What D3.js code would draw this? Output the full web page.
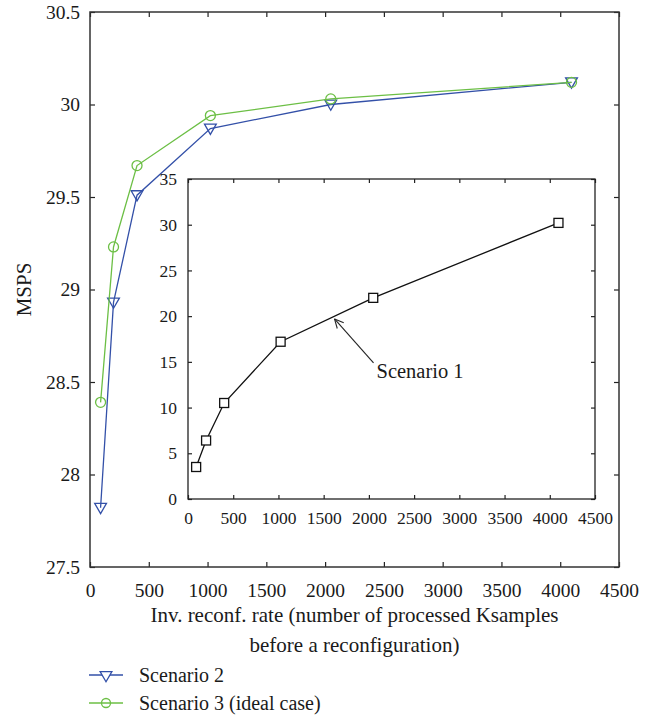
<!DOCTYPE html>
<html>
<head>
<meta charset="utf-8">
<script src="https://cdn.jsdelivr.net/npm/d3@7"></script>
<style>
  body { margin: 0; background: #fff; }
  svg { display: block; }
  text { font-family: "Liberation Serif", "DejaVu Serif", serif; fill: #1a1a1a; }
</style>
</head>
<body>
<svg id="chart" width="651" height="717" font-family="Liberation Serif, serif"></svg>
<script>
// ---- Data ----
const samples = [90, 200, 400, 1024, 2048, 4096];
const scenario2 = [27.82, 28.93, 29.51, 29.87, 30.00, 30.12];
const scenario3 = [28.39, 29.23, 29.67, 29.94, 30.03, 30.12];
const scenario1 = [3.5, 6.4, 10.5, 17.2, 22.0, 30.2];
const mainXTicks = [0, 500, 1000, 1500, 2000, 2500, 3000, 3500, 4000, 4500];
const mainYTicks = [27.5, 28, 28.5, 29, 29.5, 30, 30.5];
const insetXTicks = [0, 500, 1000, 1500, 2000, 2500, 3000, 3500, 4000, 4500];
const insetYTicks = [0, 5, 10, 15, 20, 25, 30, 35];
const seriesNames = ["Scenario 2", "Scenario 3 (ideal case)"];
const annotation = { label: "Scenario 1", x: 1620, y: 19.7 };

const blue = "#3350a8", green = "#6cbf45";

const svg = d3.select("#chart");

// ---- Main chart ----
const M = { left: 90, right: 619, top: 12, bottom: 567 };
const x = d3.scaleLinear().domain([0, 4500]).range([M.left, M.right]);
const y = d3.scaleLinear().domain([27.5, 30.5]).range([M.bottom, M.top]);

const fmtMain = d => String(d);

function styleAxis(g, fs) {
  g.attr("font-family", "Liberation Serif, serif");
  g.select(".domain").remove();
  g.selectAll(".tick line").attr("stroke", "#222").attr("stroke-width", 1.2);
  g.selectAll(".tick text").attr("font-size", fs).attr("fill", "#1a1a1a");
}

// bottom
svg.append("g").attr("transform", `translate(0,${M.bottom})`)
  .call(d3.axisBottom(x).tickValues(mainXTicks).tickFormat(fmtMain).tickSizeInner(-5).tickSizeOuter(0).tickPadding(16))
  .call(g => styleAxis(g, 19.5));
// top
svg.append("g").attr("transform", `translate(0,${M.top})`)
  .call(d3.axisTop(x).tickValues(mainXTicks).tickFormat("").tickSizeInner(-5).tickSizeOuter(0))
  .call(g => styleAxis(g, 19.5));
// left
svg.append("g").attr("transform", `translate(${M.left},0)`)
  .call(d3.axisLeft(y).tickValues(mainYTicks).tickFormat(fmtMain).tickSizeInner(-5).tickSizeOuter(0).tickPadding(10))
  .call(g => styleAxis(g, 19.5));
// right
svg.append("g").attr("transform", `translate(${M.right},0)`)
  .call(d3.axisRight(y).tickValues(mainYTicks).tickFormat("").tickSizeInner(-5).tickSizeOuter(0))
  .call(g => styleAxis(g, 19.5));

svg.append("rect").attr("x", M.left).attr("y", M.top)
  .attr("width", M.right - M.left).attr("height", M.bottom - M.top)
  .attr("fill", "none").attr("stroke", "#333").attr("stroke-width", 1.5);

const line = d3.line().x(d => x(d[0])).y(d => y(d[1]));
const tri = d3.symbol().type(d3.symbolTriangle).size(60);

const s2 = samples.map((s, i) => [s, scenario2[i]]);
const s3 = samples.map((s, i) => [s, scenario3[i]]);

svg.append("path").datum(s2).attr("d", line).attr("fill", "none").attr("stroke", blue).attr("stroke-width", 1.3);
svg.selectAll(".m2").data(s2).enter().append("path")
  .attr("d", tri).attr("transform", d => `translate(${x(d[0])},${y(d[1]) - 1}) rotate(180)`)
  .attr("fill", "none").attr("stroke", blue).attr("stroke-width", 1.3);

svg.append("path").datum(s3).attr("d", line).attr("fill", "none").attr("stroke", green).attr("stroke-width", 1.3);
svg.selectAll(".m3").data(s3).enter().append("circle")
  .attr("cx", d => x(d[0])).attr("cy", d => y(d[1])).attr("r", 5)
  .attr("fill", "none").attr("stroke", green).attr("stroke-width", 1.3);

// ---- Inset ----
const I = { left: 188, right: 595, top: 179, bottom: 499 };
svg.append("rect").attr("x", I.left).attr("y", I.top)
  .attr("width", I.right - I.left).attr("height", I.bottom - I.top)
  .attr("fill", "#fff").attr("stroke", "none");

const xi = d3.scaleLinear().domain([0, 4500]).range([I.left, I.right]);
const yi = d3.scaleLinear().domain([0, 35]).range([I.bottom, I.top]);

svg.append("g").attr("transform", `translate(0,${I.bottom})`)
  .call(d3.axisBottom(xi).tickValues(insetXTicks).tickFormat(fmtMain).tickSizeInner(-4).tickSizeOuter(0).tickPadding(13))
  .call(g => styleAxis(g, 17.5));
svg.append("g").attr("transform", `translate(0,${I.top})`)
  .call(d3.axisTop(xi).tickValues(insetXTicks).tickFormat("").tickSizeInner(-4).tickSizeOuter(0))
  .call(g => styleAxis(g, 17.5));
svg.append("g").attr("transform", `translate(${I.left},0)`)
  .call(d3.axisLeft(yi).tickValues(insetYTicks).tickFormat(fmtMain).tickSizeInner(-4).tickSizeOuter(0).tickPadding(11))
  .call(g => styleAxis(g, 17.5));
svg.append("g").attr("transform", `translate(${I.right},0)`)
  .call(d3.axisRight(yi).tickValues(insetYTicks).tickFormat("").tickSizeInner(-4).tickSizeOuter(0))
  .call(g => styleAxis(g, 17.5));

svg.append("rect").attr("x", I.left).attr("y", I.top)
  .attr("width", I.right - I.left).attr("height", I.bottom - I.top)
  .attr("fill", "none").attr("stroke", "#222").attr("stroke-width", 1.3);

const s1 = samples.map((s, i) => [s, scenario1[i]]);
const linei = d3.line().x(d => xi(d[0])).y(d => yi(d[1]));
svg.append("path").datum(s1).attr("d", linei).attr("fill", "none").attr("stroke", "#111").attr("stroke-width", 1.3);
svg.selectAll(".m1").data(s1).enter().append("rect")
  .attr("x", d => xi(d[0]) - 4.5).attr("y", d => yi(d[1]) - 4.5)
  .attr("width", 9).attr("height", 9)
  .attr("fill", "#fff").attr("stroke", "#111").attr("stroke-width", 1.3);

// annotation arrow
const ax = xi(annotation.x), ay = yi(annotation.y);
const tx = ax + 39, ty = ay + 44;
svg.append("line").attr("x1", tx).attr("y1", ty).attr("x2", ax).attr("y2", ay)
  .attr("stroke", "#222").attr("stroke-width", 1.1);
const ang = Math.atan2(ty - ay, tx - ax);
[0.45, -0.45].forEach(da => {
  svg.append("line").attr("x1", ax).attr("y1", ay)
    .attr("x2", ax + 10 * Math.cos(ang + da)).attr("y2", ay + 10 * Math.sin(ang + da))
    .attr("stroke", "#222").attr("stroke-width", 1.1);
});
svg.append("text").attr("x", tx + 3).attr("y", ty + 15).attr("font-size", 20.5).text(annotation.label);

// ---- Axis titles ----
svg.append("text").attr("x", (M.left + M.right) / 2).attr("y", 622).attr("text-anchor", "middle")
  .attr("font-size", 21).text("Inv. reconf. rate (number of processed Ksamples");
svg.append("text").attr("x", (M.left + M.right) / 2).attr("y", 652).attr("text-anchor", "middle")
  .attr("font-size", 21).text("before a reconfiguration)");
svg.append("text").attr("transform", `translate(31,${(M.top + M.bottom) / 2}) rotate(-90)`)
  .attr("text-anchor", "middle").attr("font-size", 21).text("MSPS");

// ---- Legend ----
const legend = svg.append("g");
const legendColors = [blue, green];
seriesNames.forEach((name, i) => {
  const ly = 675 + i * 28;
  legend.append("line").attr("x1", 89).attr("x2", 123).attr("y1", ly).attr("y2", ly)
    .attr("stroke", legendColors[i]).attr("stroke-width", 1.3);
  if (i === 0) {
    legend.append("path").attr("d", tri).attr("transform", `translate(106,${ly}) rotate(180)`)
      .attr("fill", "#fff").attr("stroke", blue).attr("stroke-width", 1.3);
  } else {
    legend.append("circle").attr("cx", 106).attr("cy", ly).attr("r", 4.5)
      .attr("fill", "none").attr("stroke", green).attr("stroke-width", 1.3);
  }
  legend.append("text").attr("x", 139).attr("y", ly + 7).attr("font-size", 20).text(name);
});
</script>
</body>
</html>
